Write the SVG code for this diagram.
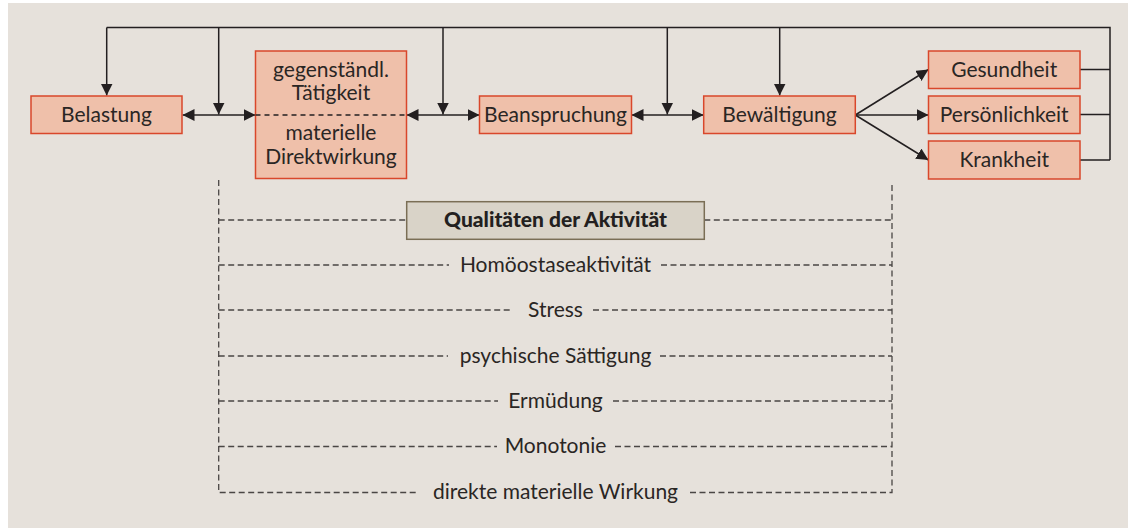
<svg xmlns="http://www.w3.org/2000/svg" width="1128" height="528" viewBox="0 0 1128 528">
<defs>
<marker id="ah" markerUnits="userSpaceOnUse" markerWidth="12" markerHeight="12" refX="12" refY="6" orient="auto-start-reverse" viewBox="0 0 12 12">
<path d="M0,0 L12,6 L0,12 z" fill="#231f20"/>
</marker>
<style>
.box{fill:#efc0aa;stroke:#d9472b;stroke-width:1.5}
.t{font-family:Lato,"Open Sans",sans-serif;font-size:21px;fill:#2a2624;text-anchor:middle}
.tb{font-family:Lato,"Open Sans",sans-serif;font-size:21px;font-weight:900;fill:#231f20;text-anchor:middle}
.ln{fill:none;stroke:#231f20;stroke-width:1.5}
.ar{fill:none;stroke:#231f20;stroke-width:1.5;marker-end:url(#ah)}
.da{fill:none;stroke:#231f20;stroke-width:1.5;marker-start:url(#ah);marker-end:url(#ah)}
.dash{fill:none;stroke:#4a4644;stroke-width:1.3;stroke-dasharray:6 3.5}
.mid{fill:none;stroke:#231f20;stroke-width:1.3;stroke-dasharray:5 4}
</style>
</defs>
<rect x="8" y="3" width="1120" height="525" fill="#e6e1db"/>

<g id="connectors">
<path class="ln" d="M1080,69.5 H1110 M1080,114.5 H1110 M1080,160 H1110 M1110,160 V27.5 H106.7"/>
<path class="ar" d="M106.7,27.5 V95.5"/>
<path class="ar" d="M218.7,27.5 V114.5"/>
<path class="ar" d="M443,27.5 V114.5"/>
<path class="ar" d="M667.3,27.5 V114.5"/>
<path class="ar" d="M779.7,27.5 V95.5"/>
<path class="da" d="M182.5,115 H255.5"/>
<path class="da" d="M406.5,115 H479.5"/>
<path class="da" d="M631.5,115 H703.7"/>
<path class="ar" d="M855.3,115 L928.5,69.5"/>
<path class="ar" d="M855.3,115 H928.5"/>
<path class="ar" d="M855.3,115 L928.5,160"/>
</g>

<g id="belastung">
<rect class="box" x="31" y="96" width="151" height="37.5"/>
<text class="t" x="106.5" y="121.7">Belastung</text>
</g>
<g id="taetigkeit">
<rect class="box" x="255.5" y="51" width="151" height="127.5"/>
<line class="mid" x1="255.5" y1="115" x2="406.5" y2="115"/>
<text class="t" x="331" y="77.3">gegenständl.</text>
<text class="t" x="331" y="100">Tätigkeit</text>
<text class="t" x="331" y="140">materielle</text>
<text class="t" x="331" y="163.5">Direktwirkung</text>
</g>
<g id="beanspruchung">
<rect class="box" x="479.5" y="96" width="152" height="37.5"/>
<text class="t" x="555.5" y="121.7">Beanspruchung</text>
</g>
<g id="bewaeltigung">
<rect class="box" x="703.7" y="96" width="151.6" height="37.5"/>
<text class="t" x="779.5" y="121.7">Bewältigung</text>
</g>
<g id="gesundheit">
<rect class="box" x="928.5" y="51" width="151.5" height="37.5"/>
<text class="t" x="1004.2" y="76.5">Gesundheit</text>
</g>
<g id="persoenlichkeit">
<rect class="box" x="928.5" y="96" width="151.5" height="37.5"/>
<text class="t" x="1004.2" y="121.7">Persönlichkeit</text>
</g>
<g id="krankheit">
<rect class="box" x="928.5" y="141" width="151.5" height="38"/>
<text class="t" x="1004.2" y="167">Krankheit</text>
</g>

<g id="qualitaeten">
<path class="dash" d="M218.7,180 V492.5 H418 M690,492.5 H892 V182"/>
<path class="dash" d="M218.7,220 H406.7 M704.3,220 H892"/>
<path class="dash" d="M218.7,265 H449 M661,265 H892"/>
<path class="dash" d="M218.7,310 H513 M593,310 H892"/>
<path class="dash" d="M218.7,356 H448 M660,356 H892"/>
<path class="dash" d="M218.7,401 H498 M613,401 H892"/>
<path class="dash" d="M218.7,446.5 H497 M615,446.5 H892"/>
<rect x="406.7" y="201.7" width="297.6" height="37.6" fill="#d9d3c8" stroke="#7a6e55" stroke-width="1.5"/>
<text class="tb" x="555.5" y="227">Qualitäten der Aktivität</text>
<text class="t" x="555.5" y="271.7">Homöostaseaktivität</text>
<text class="t" x="555.5" y="316.7">Stress</text>
<text class="t" x="555.5" y="362.5">psychische Sättigung</text>
<text class="t" x="555.5" y="407.5">Ermüdung</text>
<text class="t" x="555.5" y="453">Monotonie</text>
<text class="t" x="555.5" y="499">direkte materielle Wirkung</text>
</g>
</svg>
